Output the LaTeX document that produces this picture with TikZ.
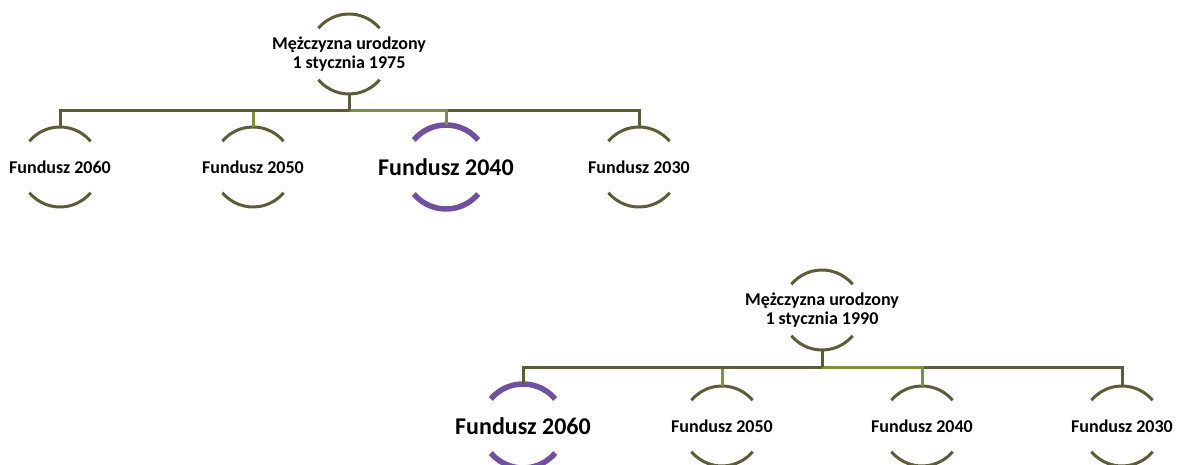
\documentclass[tikz,border=0pt]{standalone}
\usepackage{fontspec}
\setmainfont{Carlito}
\usepackage{xcolor}

\definecolor{olivebar}{RGB}{94,92,56}
\definecolor{greenbar}{RGB}{119,147,60}
\definecolor{violetring}{RGB}{112,80,160}

\tikzset{
  lbl/.style={font=\fontsize{18}{19}\selectfont\bfseries, align=center, inner sep=0pt},
  biglbl/.style={font=\fontsize{24}{28}\selectfont\bfseries, inner sep=0pt},
  oline/.style={draw=olivebar, line width=3pt},
  gline/.style={draw=greenbar, line width=3pt},
  ring/.style={draw=olivebar, line width=3pt},
  hiring/.style={draw=violetring, line width=5.5pt}
}

% upper and lower halves of a ring round a node
\newcommand{\ringarcs}[3]{%
  \draw[#3] ([shift={(40:#2)}]#1.center) arc[start angle=40, end angle=140, radius=#2];
  \draw[#3] ([shift={(220:#2)}]#1.center) arc[start angle=220, end angle=320, radius=#2];}

\begin{document}
\begin{tikzpicture}[x=1pt, y=-1pt]
    \useasboundingbox (0,0) rectangle (1177,465);
    % first man
    \node[lbl] (m1) at (349, 54) {Mężczyzna urodzony\\1 stycznia 1975};
    \node[lbl] (f1) at (60, 167) {Fundusz 2060};
    \node[lbl] (f2) at (253, 167) {Fundusz 2050};
    \node[biglbl] (f3) at (446, 167) {Fundusz 2040};
    \node[lbl] (f4) at (639, 167) {Fundusz 2030};
    \coordinate (b1) at (349, 111);
    % second man
    \node[lbl] (m2) at (822, 310) {Mężczyzna urodzony\\1 stycznia 1990};
    \node[biglbl] (g1) at (523, 426) {Fundusz 2060};
    \node[lbl] (g2) at (722, 426) {Fundusz 2050};
    \node[lbl] (g3) at (922, 426) {Fundusz 2040};
    \node[lbl] (g4) at (1122, 426) {Fundusz 2030};
    \coordinate (b2) at (822, 367);

    \foreach \n in {m1, f1, f2, f4, m2, g2, g3, g4}
      {\ringarcs{\n}{40pt}{ring}}
    \ringarcs{f3}{42pt}{hiring}
    \ringarcs{g1}{42pt}{hiring}

    \draw[gline] (b1) -| ([yshift=40pt]f2.center);
    \draw[oline] (b1) -| ([yshift=40pt]f1.center);
    \draw[oline] (b1) -| ([yshift=40pt]f4.center);
    \draw[gline] (b1) -| ([yshift=42pt]f3.center);
    \draw[oline] ([yshift=-40pt]m1.center) -- (b1);

    \draw[gline] (b2) -| ([yshift=40pt]g2.center);
    \draw[oline] (b2) -| ([yshift=42pt]g1.center);
    \draw[oline] (b2) -| ([yshift=40pt]g4.center);
    \draw[gline] (b2) -| ([yshift=40pt]g3.center);
    \draw[oline] ([yshift=-40pt]m2.center) -- (b2);
  \end{tikzpicture}
\end{document}
